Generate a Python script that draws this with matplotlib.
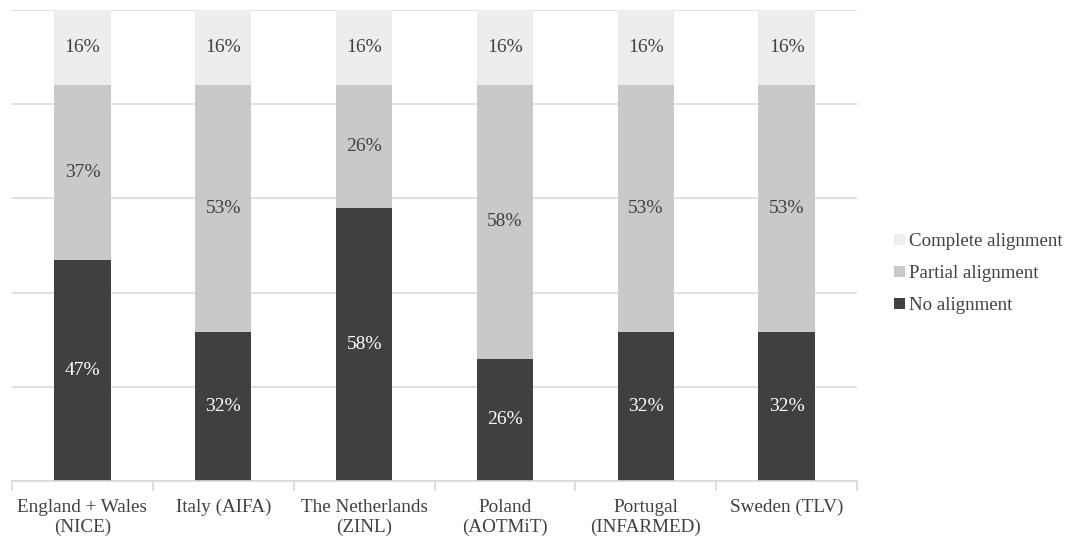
import numpy as np
import matplotlib
matplotlib.use("Agg")
import matplotlib.pyplot as plt

plt.rcParams['font.family'] = ['Liberation Serif', 'DejaVu Serif']

categories = ["England + Wales\n(NICE)", "Italy (AIFA)", "The Netherlands\n(ZINL)",
              "Poland\n(AOTMiT)", "Portugal\n(INFARMED)", "Sweden (TLV)"]
no_alignment = [47, 32, 58, 26, 32, 32]
partial_alignment = [37, 53, 26, 58, 53, 53]
complete_alignment = [16, 16, 16, 16, 16, 16]

series = [
    ("No alignment", no_alignment, "#404040", "white"),
    ("Partial alignment", partial_alignment, "#c9c9c9", "#404040"),
    ("Complete alignment", complete_alignment, "#ededed", "#404040"),
]

# 100% stacked: each column scaled by its own total
totals = np.sum([s[1] for s in series], axis=0)

fig = plt.figure(figsize=(10.66, 5.36), dpi=100)
ax = fig.add_axes([0.0113, 0.1026, 0.7927, 0.8787])

x = np.arange(len(categories))
bottom = np.zeros(len(categories))
handles = []
for name, vals, color, tcolor in series:
    share = np.array(vals) / totals * 100
    bars = ax.bar(x, share, 0.4, bottom=bottom, color=color, label=name, zorder=2)
    handles.append(bars)
    for xi, b, h, v in zip(x, bottom, share, vals):
        ax.text(xi, b + h / 2, f"{v}%", ha="center", va="center",
                color=tcolor, fontsize=14)
    bottom += share

ax.set_xlim(-0.5, len(categories) - 0.5)
ax.set_ylim(0, 100)
ax.set_yticks(np.arange(0, 101, 20))
ax.yaxis.grid(True, color="#d9d9d9", linewidth=1.2, zorder=0)
ax.tick_params(axis="y", left=False, labelleft=False)
for side in ("left", "right", "top"):
    ax.spines[side].set_visible(False)
ax.spines["bottom"].set_color("#d9d9d9")
ax.spines["bottom"].set_linewidth(1.2)

# category labels centred, tick marks on the boundaries
ax.set_xticks(x)
ax.set_xticklabels(categories, fontsize=13.8, color="#404040", linespacing=1.2)
ax.tick_params(axis="x", length=0, pad=13)
ax.set_xticks(np.arange(-0.5, len(categories)), minor=True)
ax.tick_params(axis="x", which="minor", length=7, color="#d9d9d9", width=1.2)

leg = ax.legend(handles=handles[::-1], loc="center left", bbox_to_anchor=(1.035, 0.44),
                frameon=False, fontsize=13.6, handlelength=0.55, handleheight=0.55,
                handletextpad=0.25, labelspacing=0.8, borderaxespad=0)
for t in leg.get_texts():
    t.set_color("#404040")

fig.savefig("out.png", dpi=100)
